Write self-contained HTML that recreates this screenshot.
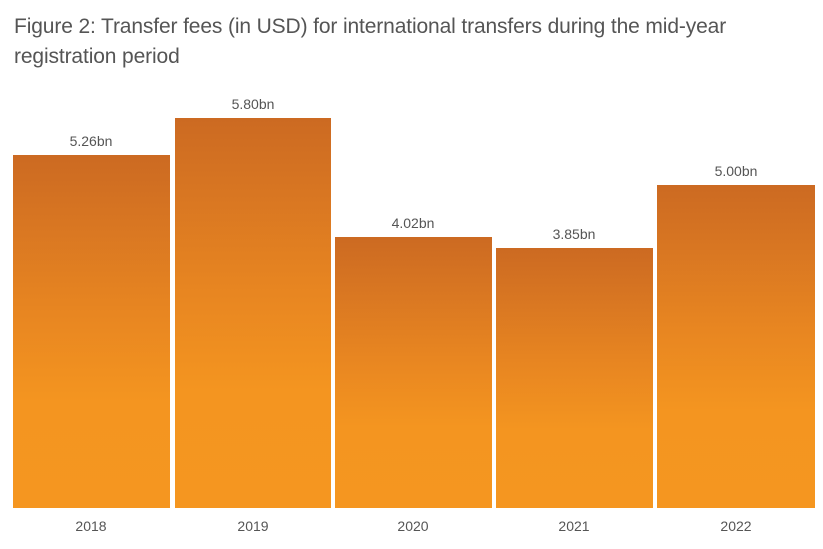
<!DOCTYPE html>
<html><head><style>
body{margin:0;width:823px;height:549px;background:#fff;position:relative;overflow:hidden;font-family:"Liberation Sans",sans-serif;}
.t{position:absolute;left:14px;top:12px;font-size:21px;line-height:30px;color:#555;letter-spacing:-0.13px}
.b{position:absolute;bottom:41px;background:linear-gradient(#cc6a22 0%,#e88621 45%,#f49520 70%,#f59620 100%)}
.v{position:absolute;font-size:14px;color:#555;text-align:center;width:160px}
.x{position:absolute;top:518px;font-size:14px;color:#555;text-align:center;width:160px}
</style></head><body>
<div class="t">Figure 2: Transfer fees (in USD) for international transfers during the mid-year<br>registration period</div>
<div class="b" style="left:13px;width:157px;top:155px"></div>
<div class="b" style="left:175px;width:156px;top:118px"></div>
<div class="b" style="left:335px;width:157px;top:237px"></div>
<div class="b" style="left:496px;width:157px;top:248px"></div>
<div class="b" style="left:657px;width:158px;top:185px"></div>
<div class="v" style="left:11px;top:133px">5.26bn</div>
<div class="v" style="left:173px;top:96px">5.80bn</div>
<div class="v" style="left:333px;top:215px">4.02bn</div>
<div class="v" style="left:494px;top:226px">3.85bn</div>
<div class="v" style="left:656px;top:163px">5.00bn</div>
<div class="x" style="left:11px">2018</div>
<div class="x" style="left:173px">2019</div>
<div class="x" style="left:333px">2020</div>
<div class="x" style="left:494px">2021</div>
<div class="x" style="left:656px">2022</div>
</body></html>
